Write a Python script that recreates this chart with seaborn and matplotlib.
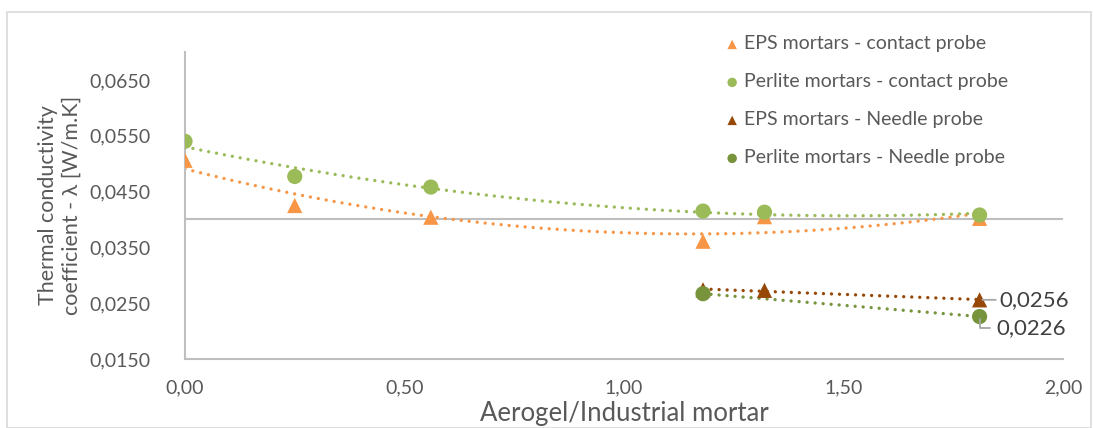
import numpy as np
import pandas as pd
import seaborn as sns
import matplotlib.pyplot as plt
from matplotlib.ticker import FuncFormatter
from matplotlib.patches import Rectangle

# values
eps_contact_x = [0.00, 0.25, 0.56, 1.18, 1.32, 1.81]
eps_contact_y = [0.0506, 0.0425, 0.0404, 0.0361, 0.0405, 0.0402]
perlite_contact_x = [0.00, 0.25, 0.56, 1.18, 1.32, 1.81]
perlite_contact_y = [0.0540, 0.0477, 0.0458, 0.0415, 0.0413, 0.0408]
eps_needle_x = [1.18, 1.32, 1.81]
eps_needle_y = [0.0274, 0.0273, 0.0256]
perlite_needle_x = [1.18, 1.81]
perlite_needle_y = [0.0267, 0.0226]

series = [
    ("EPS mortars - contact probe", eps_contact_x, eps_contact_y, "^", "#F79646", 2),
    ("Perlite mortars - contact probe", perlite_contact_x, perlite_contact_y, "o", "#9BBB59", 2),
    ("EPS mortars - Needle probe", eps_needle_x, eps_needle_y, "^", "#974706", 1),
    ("Perlite mortars - Needle probe", perlite_needle_x, perlite_needle_y, "o", "#77933C", 1),
]

sns.set_style("white")
plt.rcParams["font.family"] = ["Lato", "DejaVu Sans"]
txt = "#595959"

fig = plt.figure(figsize=(10.93, 4.28), dpi=100)
ax = fig.add_axes([185 / 1093, (428 - 359) / 428, (1063 - 185) / 1093, (359 - 52) / 428])

# chart area border
fig.patches.append(Rectangle((7 / 1093, 0), 1084 / 1093, (428 - 12) / 428, transform=fig.transFigure,
                             fill=False, edgecolor="#D9D9D9", linewidth=1.2))

ax.axhline(0.040, color="#BFBFBF", lw=1.5, zorder=1)

# trend lines (polynomial for contact, linear for needle)
for name, xs, ys, mk, col, deg in series:
    coef = np.polyfit(xs, ys, deg)
    xx = np.linspace(min(xs), max(xs), 200)
    trend = pd.DataFrame({"x": xx, "y": np.polyval(coef, xx)})
    sns.lineplot(data=trend, x="x", y="y", ax=ax, color=col, lw=2.4,
                 linestyle=(0, (0.01, 2.4)), dash_capstyle="round", zorder=2)

for name, xs, ys, mk, col, deg in series:
    df = pd.DataFrame({"x": xs, "y": ys})
    sns.scatterplot(data=df, x="x", y="y", ax=ax, marker=mk, color=col, s=120,
                    edgecolor="none", label=name, zorder=3)

# data labels for last needle points
ax.annotate("0,0256", xy=(eps_needle_x[-1], eps_needle_y[-1]), xytext=(14, 0),
            textcoords="offset points", va="center", ha="left", fontsize=16, color="#404040",
            arrowprops=dict(arrowstyle="-", color="#A6A6A6", lw=1.3, shrinkA=0, shrinkB=2))
ax.annotate("0,0226", xy=(perlite_needle_x[-1], perlite_needle_y[-1]), xytext=(12, -8),
            textcoords="offset points", va="center", ha="left", fontsize=16, color="#404040",
            arrowprops=dict(arrowstyle="-", color="#A6A6A6", lw=1.3, shrinkA=2, shrinkB=2,
                            connectionstyle="angle,angleA=0,angleB=90,rad=0"))

ax.set_xlim(0, 2)
ax.set_ylim(0.015, 0.070)
ax.set_xticks([0, 0.5, 1.0, 1.5, 2.0])
ax.set_yticks([0.015, 0.025, 0.035, 0.045, 0.055, 0.065])
ax.xaxis.set_major_formatter(FuncFormatter(lambda v, p: f"{v:.2f}".replace(".", ",")))
ax.yaxis.set_major_formatter(FuncFormatter(lambda v, p: f"{v:.4f}".replace(".", ",")))
ax.tick_params(axis="both", length=0, labelsize=14, labelcolor=txt)
ax.tick_params(axis="y", pad=25)
ax.tick_params(axis="x", pad=15)

for s in ["top", "right"]:
    ax.spines[s].set_visible(False)
for s in ["left", "bottom"]:
    ax.spines[s].set_color("#BFBFBF")
    ax.spines[s].set_linewidth(1.5)

ax.set_xlabel("Aerogel/Industrial mortar", fontsize=18.5, color=txt, labelpad=3)
ax.set_ylabel("Thermal conductivity\ncoefficient - λ [W/m.K]", fontsize=15.5, color=txt,
              linespacing=1.2)
ax.yaxis.set_label_coords(-0.118, 0.5)

leg = ax.legend(loc="upper left", bbox_to_anchor=(703 / 1093, 1 - 18 / 428),
                bbox_transform=fig.transFigure, frameon=False, fontsize=14,
                labelspacing=1.08, handletextpad=0.0, handlelength=1.2, markerscale=0.62)
for t in leg.get_texts():
    t.set_color(txt)

fig.savefig("out.png", dpi=100)
